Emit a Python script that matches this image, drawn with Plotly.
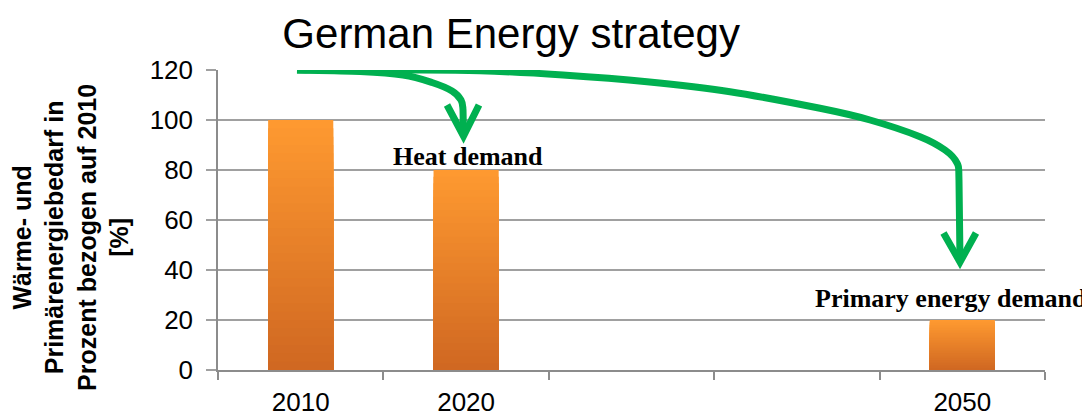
import plotly.graph_objects as go

# Dados do gráfico
anos = [2010, 2020, 2050]
valores = [100, 80, 20]  # % em relação a 2010
rotulos_eixo_x = ['2010', '2020', '2050']
titulo = 'German Energy strategy'
titulo_y = 'Wärme- und<br>Primärenergiebedarf in<br>Prozent bezogen auf 2010<br>[%]'

# Gradiente das barras (claro em cima, escuro embaixo)
cor_topo = (254, 153, 48)
cor_base = (208, 104, 34)
n_camadas = 30

verde = '#00B050'

# Área do gráfico na página (px) -> usada só para desenhar as setas decorativas
X0_PX, X1_PX, Y0_PX, Y1_PX = 218, 1045, 370, 70
X_MIN, X_MAX, Y_MAX = 2005, 2055, 120


def a_dados(px, py):
    # converte posição em pixels da página para coordenadas do gráfico
    return (X_MIN + (px - X0_PX) / (X1_PX - X0_PX) * (X_MAX - X_MIN),
            (Y0_PX - py) / (Y0_PX - Y1_PX) * Y_MAX)


def caminho_suave(pontos, fim):
    # curva Catmull-Rom -> Bézier pelos pontos, depois reta até "fim"
    p = [a_dados(*pt) for pt in pontos]
    f = a_dados(*fim)
    ext = [p[0]] + p + [f]
    d = 'M %.3f,%.3f' % p[0]
    for i in range(1, len(ext) - 2):
        a, b, c, e = ext[i - 1], ext[i], ext[i + 1], ext[i + 2]
        c1 = (b[0] + (c[0] - a[0]) / 6, b[1] + (c[1] - a[1]) / 6)
        c2 = (c[0] - (e[0] - b[0]) / 6, c[1] - (e[1] - b[1]) / 6)
        d += ' C %.3f,%.3f %.3f,%.3f %.3f,%.3f' % (c1 + c2 + c)
    d += ' L %.3f,%.3f' % f
    return d


def ponta(esq, bico, dir_):
    pts = [a_dados(*esq), a_dados(*bico), a_dados(*dir_)]
    return 'M %.3f,%.3f L %.3f,%.3f L %.3f,%.3f' % (pts[0] + pts[1] + pts[2])


fig = go.Figure()

# Barras com gradiente vertical: camadas sobrepostas, cada uma um pouco mais baixa e mais escura
for i in range(n_camadas):
    frac = 1 - i / n_camadas
    t = i / (n_camadas - 1)
    cor = tuple(round(cor_topo[k] + (cor_base[k] - cor_topo[k]) * t) for k in range(3))
    fig.add_trace(go.Bar(
        x=anos,
        y=[v * frac for v in valores],
        width=3.94,
        marker={'color': 'rgb(%d,%d,%d)' % cor, 'line': {'width': 0}},
        hoverinfo='skip' if i else None,
        showlegend=False,
    ))

# Rótulos das barras
fonte_rotulo = {'family': 'Liberation Serif', 'size': 26, 'color': 'black'}
fig.add_annotation(x=2020.1, y=85.3, text='<b>Heat demand</b>', showarrow=False, font=fonte_rotulo)
fig.add_annotation(x=2049.3, y=28.8, text='<b>Primary energy demand</b>', showarrow=False, font=fonte_rotulo)

# Setas verdes curvas
seta = {'type': 'path', 'xref': 'x', 'yref': 'y',
        'line': {'color': verde, 'width': 7}, 'layer': 'above'}
fig.add_shape(path=caminho_suave(
    [(297, 70), (360, 71.5), (403, 75), (432, 82.5), (452, 91), (461, 100), (463, 110)],
    (463.5, 134)), **seta)
fig.add_shape(path=ponta((447, 105), (463.5, 136), (479, 105)), **seta)
fig.add_shape(path=caminho_suave(
    [(297, 70), (400, 70), (480, 70.7), (563, 75), (647, 81.7), (730, 91.7), (820, 108.3),
     (870, 120), (920, 136.7), (945, 150), (957, 163), (959, 180)],
    (960, 260)), **seta)
fig.add_shape(path=ponta((943.5, 233), (960, 262), (976, 233)), **seta)

# Título do eixo Y (rotacionado)
fig.add_annotation(x=-0.178, y=0.443, xref='paper', yref='paper', text='<b>' + titulo_y + '</b>',
                   textangle=-90, showarrow=False, xanchor='center', yanchor='middle',
                   font={'family': 'Liberation Sans', 'size': 25, 'color': 'black'})

fig.update_layout(
    width=1082, height=411,
    plot_bgcolor='white',
    paper_bgcolor='white',
    margin={'l': 210, 'r': 45, 't': 62, 'b': 49},
    barmode='overlay',
    showlegend=False,
    font={'family': 'Liberation Sans', 'color': 'black', 'size': 20},
    title={'text': titulo, 'x': 0.465, 'xanchor': 'center', 'y': 0.975, 'yanchor': 'top',
           'font': {'family': 'Liberation Sans', 'size': 42, 'color': 'black'}},
    xaxis={
        'range': [X_MIN, X_MAX],
        'tickmode': 'array',
        'tickvals': anos,
        'ticktext': rotulos_eixo_x,
        'ticks': '',
        'showgrid': False,
        'zeroline': False,
        'showline': True,
        'linecolor': '#8C8C8C',
        'linewidth': 1.5,
        'tickfont': {'size': 26},
        'ticklabelstandoff': 8,
        'automargin': False,
        'minor': {'tick0': X_MIN, 'dtick': 10, 'ticks': 'outside', 'ticklen': 8,
                  'tickcolor': '#8C8C8C', 'tickwidth': 1.5, 'showgrid': False},
    },
    yaxis={
        'range': [0, Y_MAX],
        'dtick': 20,
        'ticks': 'outside',
        'ticklen': 10,
        'tickcolor': '#A0A0A0',
        'tickwidth': 1.5,
        'showgrid': True,
        'gridcolor': '#A0A0A0',
        'gridwidth': 1.5,
        'zeroline': False,
        'showline': True,
        'linecolor': '#8C8C8C',
        'linewidth': 1.5,
        'tickfont': {'size': 26},
        'ticklabelstandoff': 8,
        'automargin': False,
    },
)

fig.write_html('out.html')
